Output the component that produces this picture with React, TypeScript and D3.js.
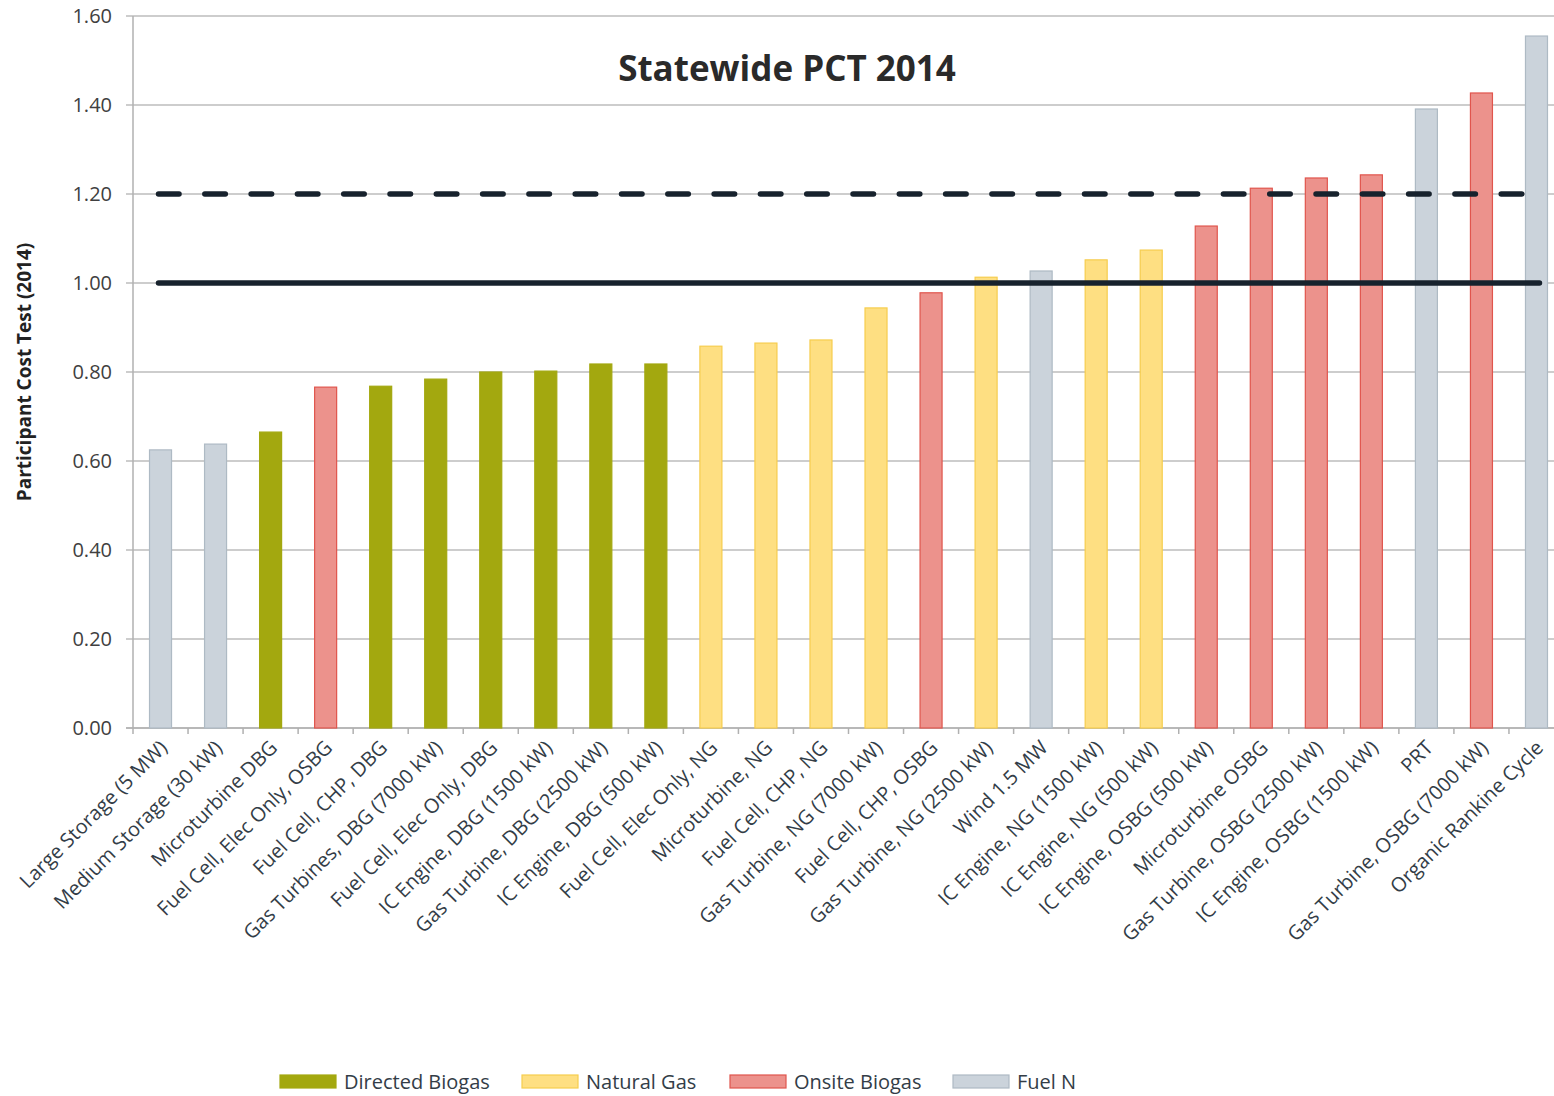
import React, { useEffect, useRef } from 'react';
import * as d3 from 'd3';

const categories = [
  'Large Storage (5 MW)', 'Medium Storage (30 kW)', 'Microturbine DBG', 'Fuel Cell, Elec Only, OSBG',
  'Fuel Cell, CHP, DBG', 'Gas Turbines, DBG (7000 kW)', 'Fuel Cell, Elec Only, DBG', 'IC Engine, DBG (1500 kW)',
  'Gas Turbine, DBG (2500 kW)', 'IC Engine, DBG (500 kW)', 'Fuel Cell, Elec Only, NG', 'Microturbine, NG',
  'Fuel Cell, CHP, NG', 'Gas Turbine, NG (7000 kW)', 'Fuel Cell, CHP, OSBG', 'Gas Turbine, NG (2500 kW)',
  'Wind 1.5 MW', 'IC Engine, NG (1500 kW)', 'IC Engine, NG (500 kW)', 'IC Engine, OSBG (500 kW)',
  'Microturbine OSBG', 'Gas Turbine, OSBG (2500 kW)', 'IC Engine, OSBG (1500 kW)', 'PRT',
  'Gas Turbine, OSBG (7000 kW)', 'Organic Rankine Cycle',
];
const pctValues = [
  0.625, 0.638, 0.665, 0.766, 0.768, 0.784, 0.80, 0.802, 0.818, 0.818, 0.858, 0.865, 0.872,
  0.944, 0.978, 1.013, 1.027, 1.052, 1.074, 1.128, 1.213, 1.236, 1.243, 1.391, 1.427, 1.555,
];
const fuelGroup = [
  'Fuel N', 'Fuel N', 'Directed Biogas', 'Onsite Biogas', 'Directed Biogas', 'Directed Biogas',
  'Directed Biogas', 'Directed Biogas', 'Directed Biogas', 'Directed Biogas', 'Natural Gas', 'Natural Gas',
  'Natural Gas', 'Natural Gas', 'Onsite Biogas', 'Natural Gas', 'Fuel N', 'Natural Gas', 'Natural Gas',
  'Onsite Biogas', 'Onsite Biogas', 'Onsite Biogas', 'Onsite Biogas', 'Fuel N', 'Onsite Biogas', 'Fuel N',
];
const legendGroups = ['Directed Biogas', 'Natural Gas', 'Onsite Biogas', 'Fuel N'];
const yTicks = [0, 0.2, 0.4, 0.6, 0.8, 1.0, 1.2, 1.4, 1.6];
const targetLine = 1.2;
const breakEvenLine = 1.0;

const FILL: Record<string, string> = {
  'Directed Biogas': '#a3a80f',
  'Natural Gas': '#fedf82',
  'Onsite Biogas': '#ec928c',
  'Fuel N': '#cbd3db',
};
const STROKE: Record<string, string> = {
  'Directed Biogas': '#a3a80f',
  'Natural Gas': '#f6cd4e',
  'Onsite Biogas': '#e0554d',
  'Fuel N': '#aebac4',
};

const FONT = '"Open Sans", sans-serif';

export default function App() {
  const svgRef = useRef<SVGSVGElement>(null);

  useEffect(() => {
    if (!svgRef.current) return;
    const svg = d3.select(svgRef.current);
    svg.selectAll('*').remove();

    const W = 1554, H = 1096;
    // plot area runs past the right edge of the picture (it is cropped there)
    const plot = { left: 133, right: 1564, top: 16, bottom: 728 };

    const x = d3.scaleBand<string>()
      .domain(categories)
      .range([plot.left, plot.right])
      .paddingInner(0.6)
      .paddingOuter(0.3);
    const y = d3.scaleLinear().domain([0, 1.6]).range([plot.bottom, plot.top]);

    // gridlines
    svg.append('g')
      .selectAll('line')
      .data(yTicks)
      .enter()
      .append('line')
      .attr('x1', plot.left - 7)
      .attr('x2', W)
      .attr('y1', d => y(d))
      .attr('y2', d => y(d))
      .attr('stroke', '#bcbcbc')
      .attr('stroke-width', 1.5);

    // y labels
    svg.append('g')
      .selectAll('text')
      .data(yTicks)
      .enter()
      .append('text')
      .attr('x', 112)
      .attr('y', d => y(d))
      .attr('dy', '0.35em')
      .attr('text-anchor', 'end')
      .attr('font-family', FONT)
      .attr('font-size', 20)
      .attr('fill', '#404040')
      .text(d => d.toFixed(2));

    // axis lines
    svg.append('line')
      .attr('x1', plot.left).attr('x2', plot.left)
      .attr('y1', y(1.6)).attr('y2', y(0))
      .attr('stroke', '#b0b0b0').attr('stroke-width', 1.5);
    svg.append('line')
      .attr('x1', plot.left - 7).attr('x2', W)
      .attr('y1', y(0)).attr('y2', y(0))
      .attr('stroke', '#b0b0b0').attr('stroke-width', 1.5);

    // category tick marks at band boundaries
    const step = x.step();
    const edges = d3.range(categories.length + 1).map(i => plot.left + i * step);
    svg.append('g')
      .selectAll('line')
      .data(edges)
      .enter()
      .append('line')
      .attr('x1', d => d).attr('x2', d => d)
      .attr('y1', y(0)).attr('y2', y(0) + 6)
      .attr('stroke', '#b0b0b0').attr('stroke-width', 1.5);

    // bars
    svg.append('g')
      .selectAll('rect')
      .data(categories)
      .enter()
      .append('rect')
      .attr('x', d => x(d)!)
      .attr('width', x.bandwidth())
      .attr('y', (_, i) => y(pctValues[i]))
      .attr('height', (_, i) => y(0) - y(pctValues[i]))
      .attr('fill', (_, i) => FILL[fuelGroup[i]])
      .attr('stroke', (_, i) => STROKE[fuelGroup[i]])
      .attr('stroke-width', 1.2);

    // reference lines
    const xStart = x(categories[0])! + x.bandwidth() / 2 - 2;
    const xEnd = x(categories[categories.length - 1])! + x.bandwidth() / 2 + 3;
    svg.append('line')
      .attr('x1', xStart).attr('x2', xEnd - 16)
      .attr('y1', y(targetLine)).attr('y2', y(targetLine))
      .attr('stroke', '#17222d').attr('stroke-width', 5.5)
      .attr('stroke-linecap', 'round')
      .attr('stroke-dasharray', '20.5,25.8');
    svg.append('line')
      .attr('x1', xStart).attr('x2', xEnd)
      .attr('y1', y(breakEvenLine)).attr('y2', y(breakEvenLine))
      .attr('stroke', '#17222d').attr('stroke-width', 5.5)
      .attr('stroke-linecap', 'round');

    // category labels
    svg.append('g')
      .selectAll('text')
      .data(categories)
      .enter()
      .append('text')
      .attr('transform', d => `translate(${x(d)! + x.bandwidth() / 2 + 3},${y(0) + 16}) rotate(-45)`)
      .attr('text-anchor', 'end')
      .attr('dy', '0.35em')
      .attr('font-family', FONT)
      .attr('font-size', 20)
      .attr('fill', '#333d47')
      .text(d => d);

    // title
    svg.append('text')
      .attr('x', 787).attr('y', 69)
      .attr('dy', '0.35em')
      .attr('text-anchor', 'middle')
      .attr('font-family', FONT)
      .attr('font-weight', 700)
      .attr('font-size', 35)
      .attr('fill', '#2a2a2a')
      .text('Statewide PCT 2014');

    // y axis title
    svg.append('text')
      .attr('transform', `translate(24,${(y(0) + y(1.6)) / 2}) rotate(-90)`)
      .attr('text-anchor', 'middle')
      .attr('dy', '0.35em')
      .attr('font-family', FONT)
      .attr('font-weight', 700)
      .attr('font-size', 19)
      .attr('fill', '#222')
      .text('Participant Cost Test (2014)');

    // legend
    const legendX = [280, 522, 730, 953];
    const lg = svg.append('g')
      .selectAll('g')
      .data(legendGroups)
      .enter()
      .append('g')
      .attr('transform', (_, i) => `translate(${legendX[i]},1082)`);
    lg.append('rect')
      .attr('x', 0).attr('y', -7)
      .attr('width', 56).attr('height', 13)
      .attr('fill', d => FILL[d])
      .attr('stroke', d => STROKE[d])
      .attr('stroke-width', 1.2);
    lg.append('text')
      .attr('x', 64).attr('y', 0)
      .attr('dy', '0.35em')
      .attr('font-family', FONT)
      .attr('font-size', 20)
      .attr('fill', '#333d47')
      .text(d => d);
  }, []);

  return (
    <svg
      ref={svgRef}
      width={1554}
      height={1096}
      style={{ position: 'absolute', left: 0, top: 0, background: '#fff' }}
    />
  );
}
